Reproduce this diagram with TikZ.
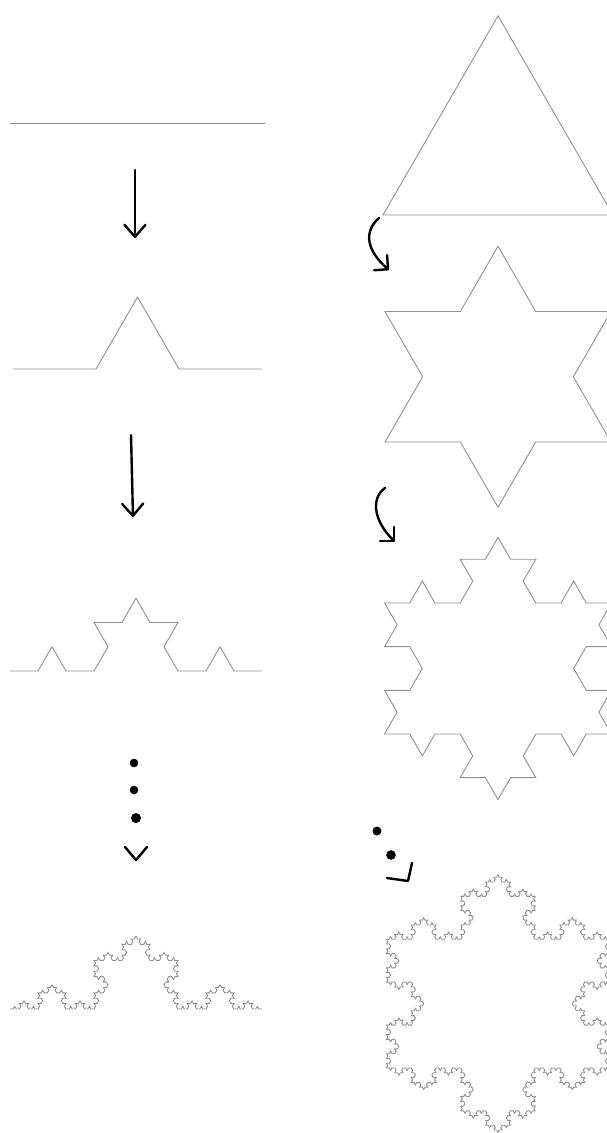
\documentclass[tikz,border=0pt]{standalone}
\usetikzlibrary{lindenmayersystems,arrows.meta}
\pgfdeclarelindenmayersystem{KochCurve}{\rule{F -> F+F--F+F}}
\pgfdeclarelindenmayersystem{KochFlake}{\rule{F -> F-F++F-F}}
\definecolor{kochgray}{RGB}{145,145,145}
\tikzset{
  koch/.style={draw=kochgray, line width=0.9pt, line join=miter},
  pen/.style={draw=black, line width=2.4pt, line cap=round, line join=round},
  penarrow/.style={pen, -{Straight Barb[length=12pt,width=21pt,round]}},
  curvearrow/.style={pen, -{Straight Barb[length=10pt,width=20pt,round]}},
  dot/.style={fill=black},
}
\begin{document}
\begin{tikzpicture}[x=1pt,y=-1pt]
\useasboundingbox (0,0) rectangle (607,1133);
\fill[white] (0,0) rectangle (607,1133);
\clip (0,0) rectangle (607,1133);

% ---- left column: Koch curve ----
\coordinate (k0a) at (10,123);
\coordinate (k0b) at (265,123);
\draw[koch] (k0a) -- (k0b);
\begin{scope}[shift={(13,369)}]
\draw[koch, l-system={KochCurve, axiom=F, order=1, step=83pt, angle=60}] (0,0) lindenmayer system;
\end{scope}
\begin{scope}[shift={(10,671)}]
\draw[koch, l-system={KochCurve, axiom=F, order=2, step=28pt, angle=60}] (0,0) lindenmayer system;
\end{scope}
\begin{scope}[shift={(10,1009)}]
\draw[koch, l-system={KochCurve, axiom=F, order=4, step=3.111pt, angle=60}] (0,0) lindenmayer system;
\end{scope}

% left arrows
\coordinate (la1s) at (135,170);
\coordinate (la1e) at (135,238);
\draw[penarrow] (la1s) -- (la1e);
\coordinate (la2s) at (131,435);
\coordinate (la2e) at (133,517);
\draw[penarrow] (la2s) -- (la2e);
% left dots and chevron
\coordinate (ld1) at (134,763);
\coordinate (ld2) at (134,790);
\coordinate (ld3) at (136,818);
\fill[dot] (ld1) circle (4.3pt);
\fill[dot] (ld2) circle (4.3pt);
\fill[dot] (ld3) circle (5pt);
\coordinate (lc1) at (125,847);
\coordinate (lc2) at (136,860);
\coordinate (lc3) at (147,847);
\draw[pen] (lc1) -- (lc2) -- (lc3);

% ---- right column: Koch snowflake ----
\begin{scope}[shift={(383,215)}]
\draw[koch, l-system={KochFlake, axiom=F++F++F, order=0, step=230pt, angle=60}] (0,0) lindenmayer system -- cycle;
\end{scope}
\begin{scope}[shift={(385,442)}]
\draw[koch, l-system={KochFlake, axiom=F++F++F, order=1, step=75.33pt, angle=60}] (0,0) lindenmayer system -- cycle;
\end{scope}
\begin{scope}[shift={(384.5,734)}]
\draw[koch, l-system={KochFlake, axiom=F++F++F, order=2, step=25.22pt, angle=60}] (0,0) lindenmayer system -- cycle;
\end{scope}
\begin{scope}[shift={(386.5,1068)}]
\draw[koch, l-system={KochFlake, axiom=F++F++F, order=4, step=2.753pt, angle=60}] (0,0) lindenmayer system -- cycle;
\end{scope}

% right curved arrows
\coordinate (ra1s) at (379,218);
\coordinate (ra1e) at (389,270);
\draw[curvearrow] (ra1s) .. controls (363,232) and (367,251) .. (ra1e);
\coordinate (ra2s) at (385,488);
\coordinate (ra2e) at (395,542);
\draw[curvearrow] (ra2s) .. controls (371,498) and (373,520) .. (ra2e);
% right dots and head
\coordinate (rd1) at (377,831);
\coordinate (rd2) at (391,855);
\fill[dot] (rd1) circle (4.5pt);
\fill[dot] (rd2) circle (4.8pt);
\coordinate (rh1) at (412,863);
\coordinate (rh2) at (408,881);
\coordinate (rh3) at (387,878);
\draw[pen] (rh1) -- (rh2) -- (rh3);
\end{tikzpicture}
\end{document}
